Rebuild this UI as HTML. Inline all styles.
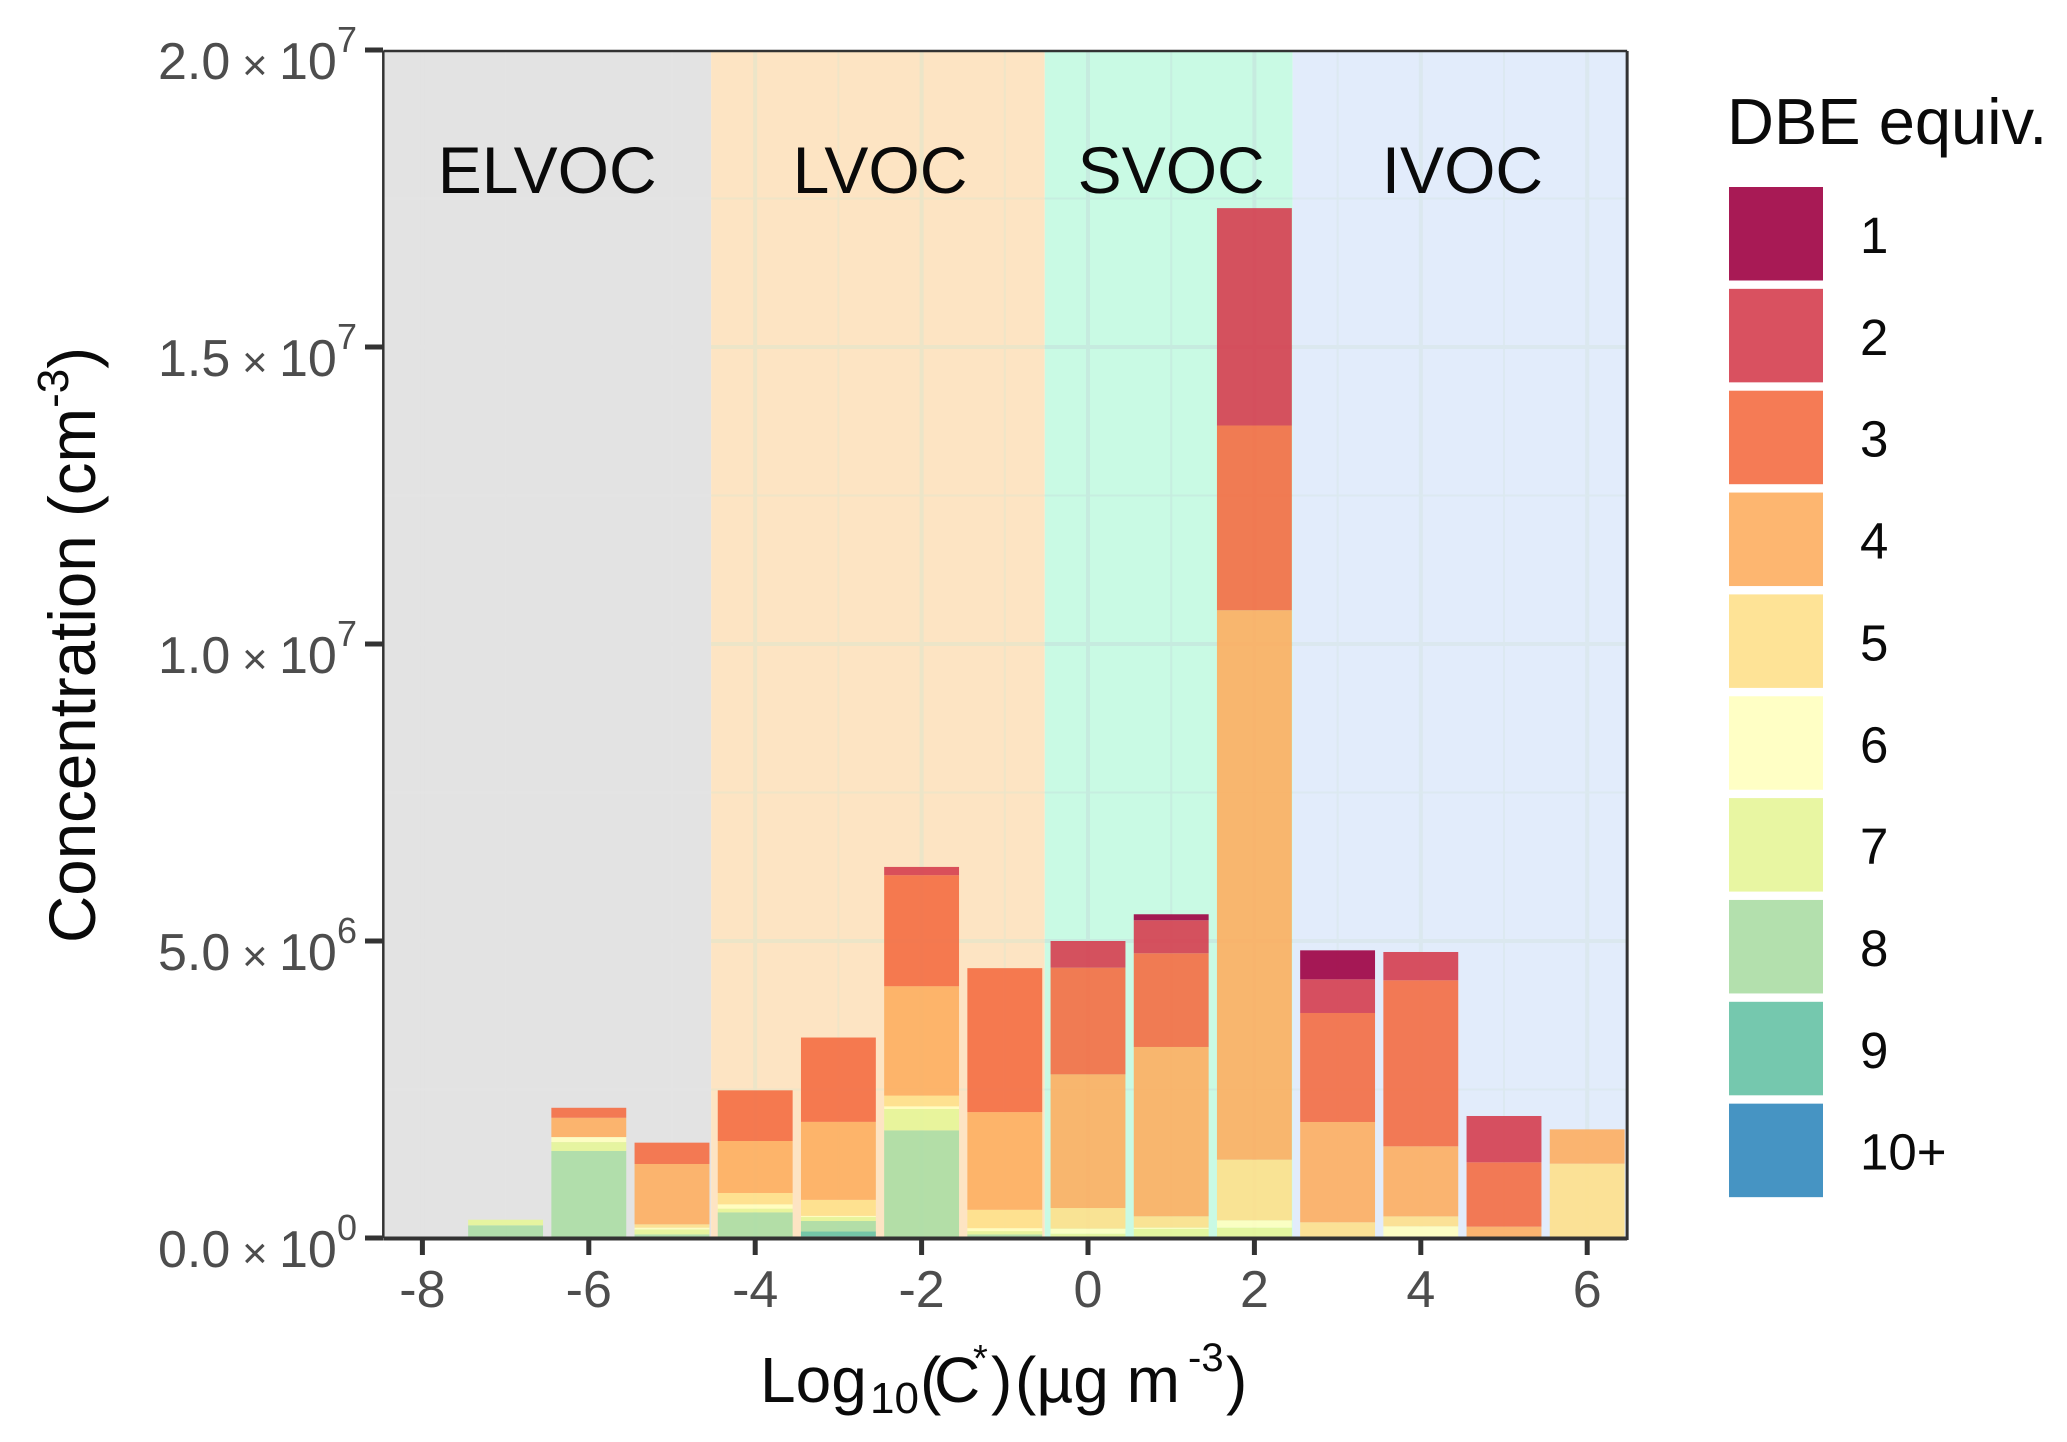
<!DOCTYPE html>
<html lang="en">
<head>
<meta charset="utf-8">
<title>Concentration by volatility bin and DBE equivalent</title>
<style>
html,body{margin:0;padding:0;background:#fff;}
svg{display:block;font-family:"Liberation Sans",sans-serif;}
</style>
</head>
<body>
<svg id="chart" xmlns="http://www.w3.org/2000/svg" width="2067" height="1442" viewBox="0 0 2067 1442">
  <rect x="0" y="0" width="2067" height="1442" fill="#ffffff"/>
  <g id="bands"></g>
  <g id="grid"></g>
  <g id="bars"></g>
  <g id="band-labels"></g>
  <g id="axes"></g>
  <g id="legend"></g>
  <text transform="translate(95,645) rotate(-90)" font-size="65.5" fill="#0a0a0a" text-anchor="middle">Concentration (cm<tspan font-size="44" dy="-27">-3</tspan><tspan dy="27">)</tspan></text>
  <text font-size="64" fill="#0a0a0a" y="1402"><tspan x="760">Log</tspan><tspan x="870" y="1413" font-size="44">10</tspan><tspan x="920" y="1402">(</tspan><tspan x="934" y="1402">C</tspan><tspan x="973" y="1371" font-size="38">*</tspan><tspan x="991" y="1402">)</tspan><tspan x="1015" y="1402">(µg m</tspan><tspan x="1188" y="1371" font-size="40">-3</tspan><tspan x="1226" y="1402">)</tspan></text>
</svg>
<script>
// Bin centres: Log10(C*)
const logCBins = [-7,-6,-5,-4,-3,-2,-1,0,1,2,3,4,5,6];
// Concentration per DBE class, in cm^-3 x 10^6
const dbe1  = [0,0,0,0,0,0,0,0,0.101,0,0.488,0,0,0];
const dbe2  = [0,0,0,0,0,0.14,0,0.449,0.556,3.66,0.567,0.477,0.78,0];
const dbe3  = [0,0.168,0.359,0.853,1.42,1.869,2.424,1.796,1.577,3.11,1.835,2.795,1.083,0];
const dbe4  = [0,0.325,1.016,0.875,1.313,1.841,1.644,2.25,2.851,9.25,1.689,1.179,0.191,0.578];
const dbe5  = [0,0,0.056,0.191,0.269,0.18,0.309,0.348,0.191,1.021,0.264,0.168,0,1.251];
const dbe6  = [0,0.084,0.03,0.073,0.02,0.045,0.05,0.084,0.022,0.123,0,0.196,0,0];
const dbe7  = [0.095,0.15,0.084,0.062,0.067,0.359,0.056,0.073,0.152,0.174,0,0,0,0];
const dbe8  = [0.213,1.465,0.06,0.432,0.174,1.813,0.06,0,0,0,0,0,0,0];
const dbe9  = [0,0,0,0,0.084,0,0,0,0,0,0,0,0,0];
const dbe10 = [0,0,0,0,0.028,0,0,0,0,0,0,0,0,0];
// Legend order, top to bottom
const dbeLabels = ["1","2","3","4","5","6","7","8","9","10+"];
const dbeSeries = [dbe1,dbe2,dbe3,dbe4,dbe5,dbe6,dbe7,dbe8,dbe9,dbe10];
// Axis ticks
const xTicks = [-8,-6,-4,-2,0,2,4,6];
const xGridMinor = [-7,-5,-3,-1,1,3,5];
const yTicks = [0,5,10,15,20];
const yGridMinor = [2.5,7.5,12.5,17.5];
const yTickMantissas = ["0.0","5.0","1.0","1.5","2.0"];
const yTickExponents = ["0","6","7","7","7"];
// Volatility classes: label and bin-edge range
const bandNames = ["ELVOC","LVOC","SVOC","IVOC"];
const bandEdges = [-8.47,-4.53,-0.52,2.46,6.48];
const bandLabelCentres = [-6.50,-2.50,1.00,4.50];

const palette = ["#9e0142","#d53e4f","#f46d43","#fdae61","#fee08b","#ffffbf","#e6f598","#abdda4","#66c2a5","#3288bd"];
const bandFills = ["#e3e3e3","#fde4c3","#c9fae4","#e2ecfb"];
const bandGridColors = ["#e3e3e3","#ece5c8","#c6ebdf","#dbe8ef"];

const NS = "http://www.w3.org/2000/svg";
const xs = v => 1088 + 83.2 * v;
const ys = v => 1238 - v * 1188 / 20;
const BAR_W = 0.9;

function mk(tag, parent, attrs, text) {
  const el = document.createElementNS(NS, tag);
  for (const k in attrs) el.setAttribute(k, attrs[k]);
  if (text !== undefined) el.textContent = text;
  parent.appendChild(el);
  return el;
}
const gBands = document.getElementById("bands");
const gGrid = document.getElementById("grid");
const gBars = document.getElementById("bars");
const gLabels = document.getElementById("band-labels");
const gAxes = document.getElementById("axes");
const gLegend = document.getElementById("legend");

// Bands and per-band grid
bandNames.forEach((name, i) => {
  const x0 = xs(bandEdges[i]);
  const x1 = xs(bandEdges[i + 1]);
  const r = mk("rect", gBands, {x:x0, y:ys(20)+1, width:x1-x0, height:ys(0)-ys(20)-1, fill:bandFills[i]});
  
  

  const drawV = (v, w, op) => {
    if (xs(v) <= x0 || xs(v) >= x1) return;
    const l = mk("line", gGrid, {x1:xs(v), x2:xs(v), y1:ys(20)+1, y2:ys(0), stroke:bandGridColors[i], "stroke-width":w, "stroke-opacity":op});
    
    
  };
  const drawH = (v, w, op) => {
    const l = mk("line", gGrid, {x1:x0, x2:x1, y1:ys(v), y2:ys(v), stroke:bandGridColors[i], "stroke-width":w, "stroke-opacity":op});
    
    
  };
  xTicks.forEach(v => drawV(v, 4, 1));
  xGridMinor.forEach(v => drawV(v, 2, 0.8));
  yTicks.slice(1, 4).forEach(v => drawH(v, 4, 1));
  yGridMinor.forEach(v => drawH(v, 2, 0.8));

  const t = mk("text", gLabels, {x:xs(bandLabelCentres[i]), y:193, "font-size":66, fill:"#0a0a0a", "text-anchor":"middle"}, name);
  
  
});

// Stacked bars: 10+ at the bottom, DBE 1 on top
logCBins.forEach((bin, b) => {
  let base = 0;
  for (let s = dbeSeries.length - 1; s >= 0; s--) {
    const val = dbeSeries[s][b];
    if (val <= 0) continue;
    const r = mk("rect", gBars, {
      x: xs(bin - BAR_W / 2),
      y: ys(base + val),
      width: xs(bin + BAR_W / 2) - xs(bin - BAR_W / 2),
      height: ys(base) - ys(base + val),
      fill: palette[s],
      "fill-opacity": 0.9
    });
    
    
    base += val;
  }
});

// Panel border
const frame = [
  {x1:xs(-8.47), x2:xs(6.48), y1:51, y2:51, w:2.5},
  {x1:xs(-8.47), x2:xs(-8.47), y1:51, y2:1238, w:2.5},
  {x1:xs(6.48), x2:xs(6.48), y1:51, y2:1240, w:3},
  {x1:xs(-8.47), x2:xs(6.48), y1:1238.5, y2:1238.5, w:4}
];
frame.forEach(f => {
  const l = mk("line", gAxes, {x1:f.x1, x2:f.x2, y1:f.y1, y2:f.y2, stroke:"#333333", "stroke-width":f.w});
  
  
});

// X axis
xTicks.forEach(v => {
  const l = mk("line", gAxes, {x1:xs(v), x2:xs(v), y1:1238, y2:1255, stroke:"#333333", "stroke-width":5});
  
  
  const t = mk("text", gAxes, {x:xs(v), y:1307, "font-size":52, fill:"#4d4d4d", "text-anchor":"middle"}, String(v));
  
  
});

// Y axis
yTicks.forEach((v, i) => {
  const y = ys(v);
  const l = mk("line", gAxes, {x1:365, x2:383, y1:y, y2:y, stroke:"#333333", "stroke-width":5});
  
  
  const t = mk("text", gAxes, {"font-size":52, fill:"#4d4d4d"});
  
  
  mk("tspan", t, {x:158, y:y + 29}, yTickMantissas[i]);
  mk("tspan", t, {x:242, y:y + 30, "font-size":44}, "×");
  mk("tspan", t, {x:279, y:y + 29}, "10");
  mk("tspan", t, {x:337, y:y + 2, "font-size":36}, yTickExponents[i]);
});

// Legend
const title = mk("text", gLegend, {x:1727, y:144, "font-size":65, fill:"#0a0a0a"}, "DBE equiv.");


dbeLabels.forEach((lab, i) => {
  const top = 187 + i * 101.85;
  const k = mk("rect", gLegend, {x:1729, y:top, width:94, height:93.5, fill:palette[i], "fill-opacity":0.9});
  
  
  const t = mk("text", gLegend, {x:1860, y:top + 66, "font-size":51, fill:"#0a0a0a"}, lab);
  
  
});
</script>
</body>
</html>
